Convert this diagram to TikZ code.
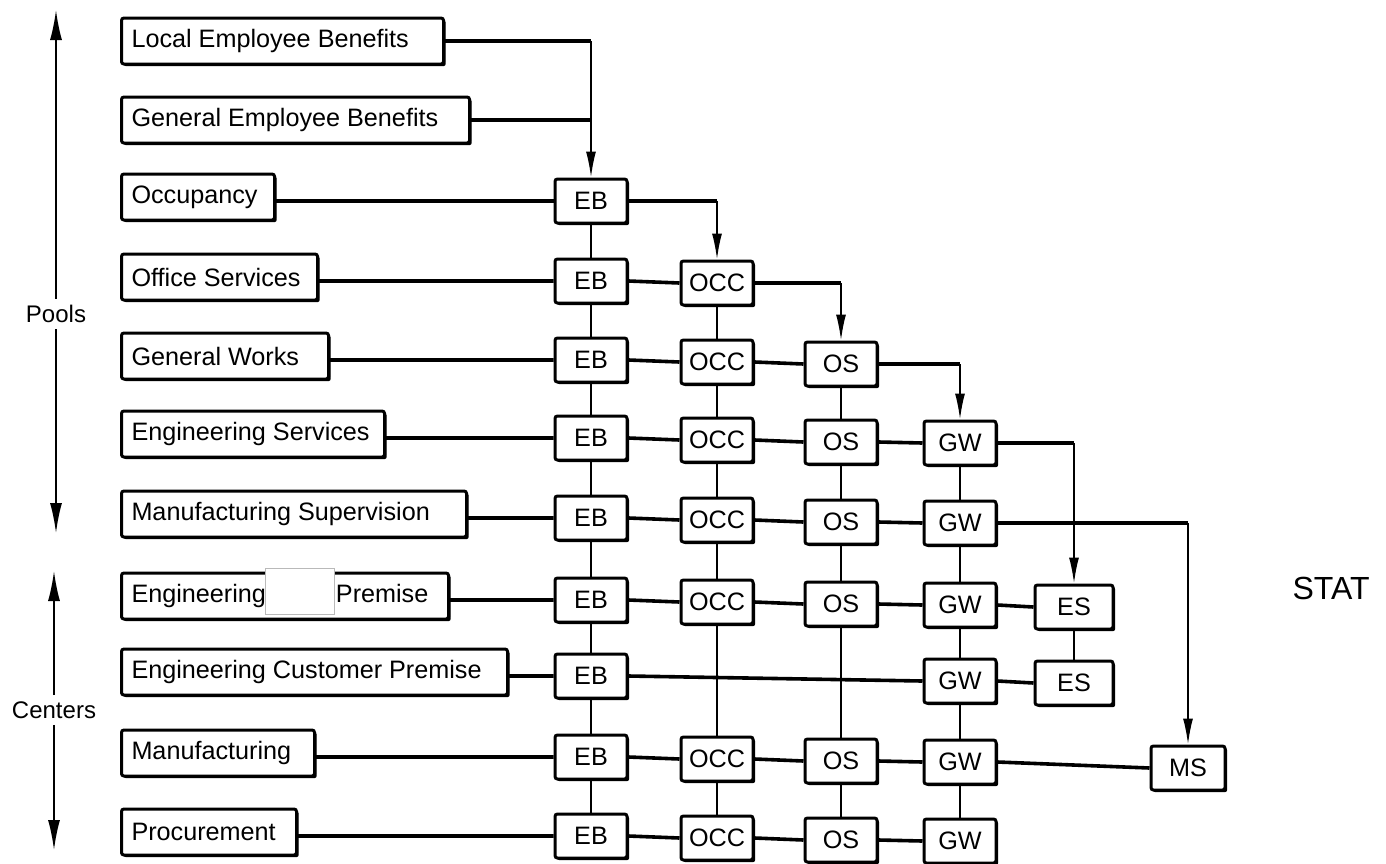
\documentclass[tikz,border=0pt]{standalone}
\usepackage{fontspec}
\setmainfont{Liberation Sans}
\usetikzlibrary{arrows.meta,shadows}
\newcommand{\lefttext}[2]{\makebox[#1][l]{#2}}
\begin{document}
\begin{tikzpicture}[x=0.5pt,y=-0.5pt,
  font=\fontsize{12.6}{14}\selectfont,
  boxbase/.style={draw=black, line width=1.5pt, fill=white, rounded corners=1.2pt,
     drop shadow={shadow xshift=1.1pt, shadow yshift=-1.1pt, fill=black, opacity=1}},
  lbox/.style={boxbase, anchor=west, inner xsep=5pt, inner ysep=0pt, minimum height=23pt},
  sbox/.style={boxbase, minimum width=36pt, minimum height=22pt, inner sep=0pt},
  hline/.style={line width=1.8pt},
  vline/.style={line width=0.7pt},
  feedh/.style={line width=1.6pt},
  feedv/.style={line width=0.9pt, -{Latex[length=13pt,width=5pt]}},
  bigarrow/.style={line width=0.9pt, -{Latex[length=15pt,width=6pt]}},
  sidelabel/.style={font=\fontsize{12}{14}\selectfont, inner sep=3pt},
]
\useasboundingbox (0,0) rectangle (1386,863);

% left column
\node[lbox] (L1) at (120,41) {\lefttext{151pt}{Local Employee Benefits}};
\node[lbox] (L2) at (120,120) {\lefttext{164pt}{General Employee Benefits}};
\node[lbox] (L3) at (120,197) {\lefttext{66.5pt}{Occupancy}};
\node[lbox] (L4) at (120,277) {\lefttext{88pt}{Office Services}};
\node[lbox] (L5) at (120,356) {\lefttext{93.5pt}{General Works}};
\node[lbox] (L6) at (120,434) {\lefttext{121.5pt}{Engineering Services}};
\node[lbox] (L7) at (120,514) {\lefttext{162.5pt}{Manufacturing Supervision}};
\node[lbox] (L8) at (120,596) {\lefttext{153.5pt}{Engineering\hspace{35pt}Premise}};
\node[lbox] (L9) at (120,672) {\lefttext{183pt}{Engineering Customer Premise}};
\node[lbox] (L10) at (120,753) {\lefttext{86.5pt}{Manufacturing}};
\node[lbox] (L11) at (120,832) {\lefttext{77.5pt}{Procurement}};
\node[draw=gray!55, fill=white, line width=0.4pt, minimum width=34.5pt, minimum height=23pt,
      inner sep=0pt, anchor=north west] (mask) at (265,568) {};

% EB column
\node[sbox] (EB3) at (591,201) {EB};
\node[sbox] (EB4) at (591,281) {EB};
\node[sbox] (EB5) at (591,360) {EB};
\node[sbox] (EB6) at (591,438) {EB};
\node[sbox] (EB7) at (591,518) {EB};
\node[sbox] (EB8) at (591,600) {EB};
\node[sbox] (EB9) at (591,676) {EB};
\node[sbox] (EB10) at (591,757) {EB};
\node[sbox] (EB11) at (591,836) {EB};
% OCC column
\node[sbox] (OC4) at (717,283) {OCC};
\node[sbox] (OC5) at (717,362) {OCC};
\node[sbox] (OC6) at (717,440) {OCC};
\node[sbox] (OC7) at (717,520) {OCC};
\node[sbox] (OC8) at (717,602) {OCC};
\node[sbox] (OC10) at (717,759) {OCC};
\node[sbox] (OC11) at (717,838) {OCC};
% OS column
\node[sbox] (OS5) at (841,364) {OS};
\node[sbox] (OS6) at (841,442) {OS};
\node[sbox] (OS7) at (841,522) {OS};
\node[sbox] (OS8) at (841,604) {OS};
\node[sbox] (OS10) at (841,761) {OS};
\node[sbox] (OS11) at (841,840) {OS};
% GW column
\node[sbox] (GW6) at (960,443) {GW};
\node[sbox] (GW7) at (960,523) {GW};
\node[sbox] (GW8) at (960,605) {GW};
\node[sbox] (GW9) at (960,681) {GW};
\node[sbox] (GW10) at (960,762) {GW};
\node[sbox] (GW11) at (960,841) {GW};
% ES, MS
\node[sbox, minimum width=39pt] (ES8) at (1074,607) {ES};
\node[sbox, minimum width=39pt] (ES9) at (1074,683) {ES};
\node[sbox, minimum width=37pt] (MS10) at (1188,768) {MS};

% horizontal connectors
\draw[hline] (L3.east |- EB3) -- (EB3.west);
\draw[hline] (L4.east |- EB4) -- (EB4.west) (EB4.east) -- (OC4.west);
\draw[hline] (L5.east |- EB5) -- (EB5.west) (EB5.east) -- (OC5.west) (OC5.east) -- (OS5.west);
\draw[hline] (L6.east |- EB6) -- (EB6.west) (EB6.east) -- (OC6.west) (OC6.east) -- (OS6.west) (OS6.east) -- (GW6.west);
\draw[hline] (L7.east |- EB7) -- (EB7.west) (EB7.east) -- (OC7.west) (OC7.east) -- (OS7.west) (OS7.east) -- (GW7.west);
\draw[hline] (L8.east |- EB8) -- (EB8.west) (EB8.east) -- (OC8.west) (OC8.east) -- (OS8.west) (OS8.east) -- (GW8.west) (GW8.east) -- (ES8.west);
\draw[hline] (L9.east |- EB9) -- (EB9.west) (EB9.east) -- (GW9.west) (GW9.east) -- (ES9.west);
\draw[hline] (L10.east |- EB10) -- (EB10.west) (EB10.east) -- (OC10.west) (OC10.east) -- (OS10.west) (OS10.east) -- (GW10.west) (GW10.east) -- (MS10.west);
\draw[hline] (L11.east |- EB11) -- (EB11.west) (EB11.east) -- (OC11.west) (OC11.east) -- (OS11.west) (OS11.east) -- (GW11.west);

% vertical connectors
\draw[vline] (EB3) -- (EB4) (EB4) -- (EB5) (EB5) -- (EB6) (EB6) -- (EB7) (EB7) -- (EB8) (EB8) -- (EB9) (EB9) -- (EB10) (EB10) -- (EB11);
\draw[vline] (OC4) -- (OC5) (OC5) -- (OC6) (OC6) -- (OC7) (OC7) -- (OC8) (OC8) -- (OC10) (OC10) -- (OC11);
\draw[vline] (OS5) -- (OS6) (OS6) -- (OS7) (OS7) -- (OS8) (OS8) -- (OS10) (OS10) -- (OS11);
\draw[vline] (GW6) -- (GW7) (GW7) -- (GW8) (GW8) -- (GW9) (GW9) -- (GW10) (GW10) -- (GW11);
\draw[vline] (ES8) -- (ES9);

% feed arrows
\coordinate (c1) at (L1.east -| EB3.north);
\coordinate (c2) at (L2.east -| EB3.north);
\draw[feedh] (L1.east) -- (c1);
\draw[feedh] (L2.east) -- (c2);
\draw[feedv] (c1) -- (EB3.north);
\coordinate (c3) at (EB3.east -| OC4.north);
\draw[feedh] (EB3.east) -- (c3);
\draw[feedv] (c3) -- (OC4.north);
\coordinate (c4) at (OC4.east -| OS5.north);
\draw[feedh] (OC4.east) -- (c4);
\draw[feedv] (c4) -- (OS5.north);
\coordinate (c5) at (OS5.east -| GW6.north);
\draw[feedh] (OS5.east) -- (c5);
\draw[feedv] (c5) -- (GW6.north);
\coordinate (c6) at (GW6.east -| ES8.north);
\draw[feedh] (GW6.east) -- (c6);
\draw[feedv] (c6) -- (ES8.north);
\coordinate (c7) at (GW7.east -| MS10.north);
\draw[feedh] (GW7.east) -- (c7);
\draw[feedv] (c7) -- (MS10.north);

% side labels
\node[sidelabel] (pools) at (56,314) {Pools};
\coordinate (ptop) at (56,10);
\coordinate (pbot) at (56,533);
\draw[bigarrow] (pools.north) -- (ptop);
\draw[bigarrow] (pools.south) -- (pbot);
\node[sidelabel] (centers) at (54,710) {Centers};
\coordinate (ctop) at (54,571);
\coordinate (cbot) at (54,850);
\draw[bigarrow] (centers.north) -- (ctop);
\draw[bigarrow] (centers.south) -- (cbot);

\node[font=\fontsize{16}{18}\selectfont, inner sep=0pt] (stat) at (1331,588) {STAT};
\end{tikzpicture}
\end{document}
